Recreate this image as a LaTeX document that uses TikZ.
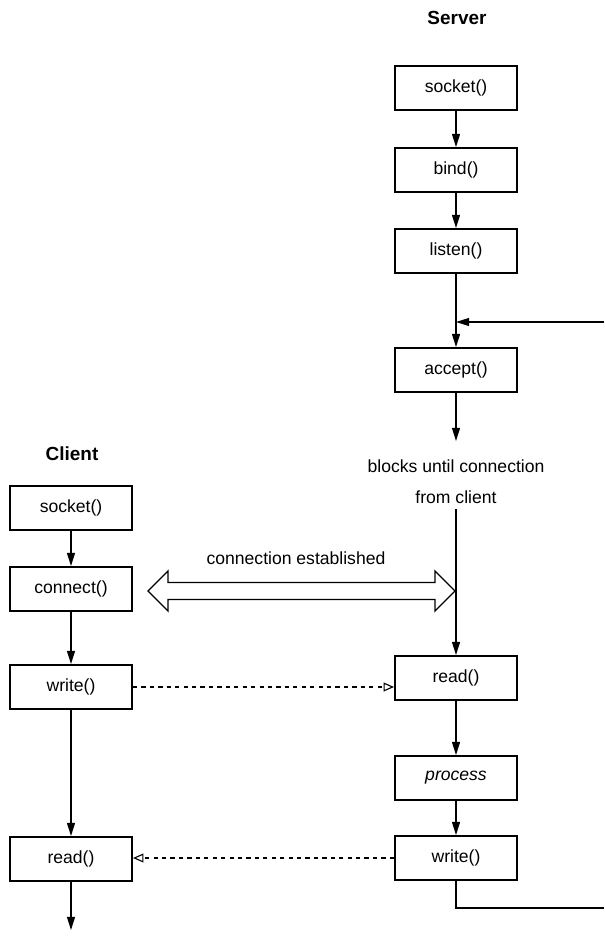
\documentclass[tikz,border=0pt]{standalone}
\usepackage{fontspec}
\setmainfont{Liberation Sans}
\usetikzlibrary{arrows.meta}

\tikzset{
	call/.style={draw, line width=1.4pt, minimum width=3.05cm, minimum height=1.1cm,
		font=\fontsize{12.5}{15}\selectfont},
	side/.style={font=\fontsize{13.5}{16}\selectfont\bfseries},
	msg/.style={dashed, line width=0.8pt, -{Triangle[open, length=2.6mm, width=2.2mm]}}
}

\begin{document}
\begin{tikzpicture}[>={Triangle[length=3.3mm, width=2mm]}, line width=1pt,
			node distance=2cm]
		\useasboundingbox (0, 0) rectangle (15.1, -23.475);

		% server side
		\node[side] (server) at (11.425, -0.45) {Server};
		\node[call] (ssocket) at (11.4, -2.2) {socket()};
		\node[call, node distance=2.05cm, below of=ssocket] (bind) {bind()};
		\node[call, node distance=2.025cm, below of=bind] (listen) {listen()};
		\node[call, node distance=2.975cm, below of=listen] (accept) {accept()};
		\coordinate (merge) at (11.4, -8.05);
		\coordinate (loopin) at (15.1, -8.05);
		\coordinate (waitend) at (11.4, -11.025);
		\node[align=center, font=\fontsize{12.5}{22}\selectfont] (blocks) at (11.4, -12.05)
			{blocks until connection\\from client};
		\node[call] (sread) at (11.4, -16.95) {read()};
		\node[call, node distance=2.5cm, below of=sread] (process) {\textit{process}};
		\node[call, below of=process] (swrite) {write()};
		\coordinate (loopout) at (15.1, -22.7);

		% client side
		\node[side] (client) at (1.8, -11.35) {Client};
		\node[call] (csocket) at (1.775, -12.7) {socket()};
		\node[call, node distance=2.025cm, below of=csocket] (connect) {connect()};
		\node[call, node distance=2.45cm, below of=connect] (cwrite) {write()};
		\node[call, node distance=4.3cm, below of=cwrite] (cread) {read()};
		\coordinate (cend) at (1.775, -23.25);

		% hollow double arrow between the two sides
		\coordinate (estl) at (3.7, -14.775);
		\coordinate (estr) at (11.375, -14.775);
		\node[font=\fontsize{12.5}{15}\selectfont] (estabtext) at (7.4, -13.95)
			{connection established};
		\draw[line width=0.9pt, line join=miter] (estl) -- ++(0.5, 0.5) -- ++(0, -0.29)
			-- ++(6.675, 0) -- ++(0, 0.29) -- (estr) -- ++(-0.5, -0.5) -- ++(0, 0.29)
			-- ++(-6.675, 0) -- ++(0, -0.29) -- cycle;

		\draw[->] (ssocket) -- (bind);
		\draw[->] (bind) -- (listen);
		\draw[->] (listen) -- (accept);
		\draw[->] (loopin) -- (merge);
		\draw[->] (accept) -- (waitend);
		\draw[->] (blocks) -- (sread);
		\draw[->] (sread) -- (process);
		\draw[->] (process) -- (swrite);
		\draw (swrite.south) |- (loopout);

		\draw[->] (csocket) -- (connect);
		\draw[->] (connect) -- (cwrite);
		\draw[->] (cwrite) -- (cread);
		\draw[->] (cread) -- (cend);

		\draw[msg] (cwrite.east) -- (cwrite.east -| sread.west);
		\draw[msg] (swrite.west) -- (swrite.west -| cread.east);
	\end{tikzpicture}
\end{document}
